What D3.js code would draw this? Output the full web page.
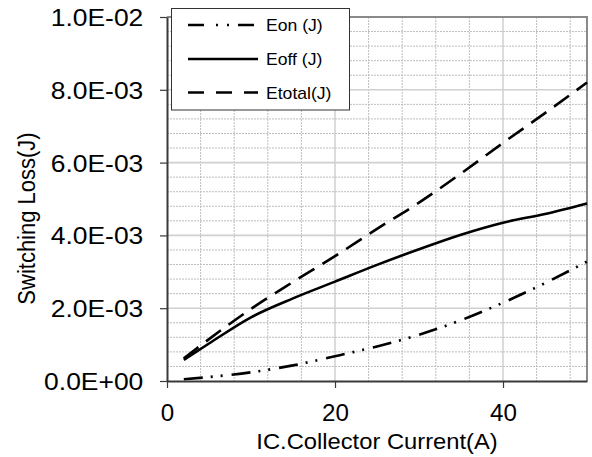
<!DOCTYPE html>
<html>
<head>
<meta charset="utf-8">
<script src="https://cdn.jsdelivr.net/npm/d3@7"></script>
<style>
  html, body { margin: 0; padding: 0; background: #fff; }
  svg { display: block; font-family: "Liberation Sans", Arial, sans-serif; }
</style>
</head>
<body>
<svg id="chart" width="592" height="457"></svg>
<script>
// Collector current (A) at which the switching energies are sampled
const currentA = [2, 5, 10, 15, 20, 25, 30, 35, 40, 45, 50];
// Switching energies in joules
const eonJ    = [0.05e-3, 0.11e-3, 0.24e-3, 0.43e-3, 0.68e-3, 0.95e-3, 1.27e-3, 1.67e-3, 2.15e-3, 2.69e-3, 3.28e-3];
const eoffJ   = [0.58e-3, 1.03e-3, 1.75e-3, 2.27e-3, 2.73e-3, 3.19e-3, 3.62e-3, 4.02e-3, 4.35e-3, 4.59e-3, 4.88e-3];
const etotalJ = [0.62e-3, 1.15e-3, 1.98e-3, 2.72e-3, 3.43e-3, 4.18e-3, 4.90e-3, 5.70e-3, 6.54e-3, 7.36e-3, 8.20e-3];

const seriesNames = ["Eon (J)", "Eoff (J)", "Etotal(J)"];
const xTickValues = [0, 20, 40];
const yTickValues = [0, 0.002, 0.004, 0.006, 0.008, 0.010];
const xLabel = "IC.Collector Current(A)";
const yLabel = "Switching Loss(J)";

const svg = d3.select("#chart");
const plot = { left: 167, right: 587, top: 17, bottom: 381 };

const x = d3.scaleLinear().domain([0, 50]).range([plot.left, plot.right]);
const y = d3.scaleLinear().domain([0, 0.01]).range([plot.bottom, plot.top]);

// "1.0E-02" style labels
function sciLabel(v) {
  const parts = v.toExponential(1).split("e");
  const sign = parts[1][0];
  const digits = parts[1].slice(1).padStart(2, "0");
  return parts[0] + "E" + sign + digits;
}

// Minor grid (dashed)
const grid = svg.append("g");
const minorX = d3.range(4, 50, 4).filter(v => v % 20 !== 0);
const minorY = d3.range(1, 25).map(i => i * 0.0004).filter((v, i) => (i + 1) % 5 !== 0);
grid.selectAll("line.mx").data(minorX).join("line")
  .attr("x1", d => x(d)).attr("x2", d => x(d))
  .attr("y1", plot.top).attr("y2", plot.bottom)
  .attr("stroke", "#bdbdbd").attr("stroke-width", 1).attr("stroke-dasharray", "2,1");
grid.selectAll("line.my").data(minorY).join("line")
  .attr("x1", plot.left).attr("x2", plot.right)
  .attr("y1", d => y(d)).attr("y2", d => y(d))
  .attr("stroke", "#bdbdbd").attr("stroke-width", 1).attr("stroke-dasharray", "2,1");
// Major grid (solid)
grid.selectAll("line.Mx").data([20, 40]).join("line")
  .attr("x1", d => x(d)).attr("x2", d => x(d))
  .attr("y1", plot.top).attr("y2", plot.bottom)
  .attr("stroke", "#c4c4c4").attr("stroke-width", 1.2);
grid.selectAll("line.My").data(yTickValues.slice(1, -1)).join("line")
  .attr("x1", plot.left).attr("x2", plot.right)
  .attr("y1", d => y(d)).attr("y2", d => y(d))
  .attr("stroke", "#d0d0d0").attr("stroke-width", 1.6);

// Top and right frame
svg.append("path")
  .attr("d", `M${plot.left},${plot.top}H${plot.right}V${plot.bottom}`)
  .attr("fill", "none").attr("stroke", "#8a8a8a").attr("stroke-width", 2);

// Curves
const line = d3.line().x(d => x(d[0])).y(d => y(d[1])).curve(d3.curveMonotoneX);
const series = [
  { values: eonJ,    dash: "19,8,2,8,2,9" },
  { values: eoffJ,   dash: null },
  { values: etotalJ, dash: "18.5,9.5" }
];
svg.append("g").selectAll("path").data(series).join("path")
  .attr("d", s => line(currentA.map((c, i) => [c, s.values[i]])))
  .attr("fill", "none").attr("stroke", "#000").attr("stroke-width", 2.6)
  .attr("stroke-dasharray", s => s.dash);

// Axes
const yAxis = svg.append("g").attr("transform", `translate(${plot.left},0)`)
  .call(d3.axisLeft(y).tickValues(yTickValues).tickSize(7).tickSizeOuter(0).tickFormat(sciLabel));
const xAxis = svg.append("g").attr("transform", `translate(0,${plot.bottom})`)
  .call(d3.axisBottom(x).tickValues(xTickValues).tickSize(7).tickSizeOuter(0).tickFormat(d3.format("d")));
[yAxis, xAxis].forEach(a => {
  a.select(".domain").attr("stroke", "#3a3a3a").attr("stroke-width", 2);
  a.selectAll(".tick line").attr("stroke", "#3a3a3a").attr("stroke-width", 1.2);
});
yAxis.selectAll(".tick text")
  .attr("font-size", 23).attr("fill", "#000")
  .attr("x", -23.7 / 1.15).attr("dy", "0.37em")
  .attr("transform", "scale(1.15,1)");
xAxis.selectAll(".tick text")
  .attr("font-size", 23).attr("fill", "#000")
  .attr("y", 40).attr("dy", 0)
  .attr("transform", "scale(1.05,1)");

// Axis titles
svg.append("text")
  .attr("transform", `translate(${(plot.left + plot.right) / 2},449) scale(1.08,1)`)
  .attr("text-anchor", "middle").attr("font-size", 22).attr("fill", "#000")
  .text(xLabel);
svg.append("text")
  .attr("transform", `translate(35,218.5) scale(1.12,1) rotate(-90)`)
  .attr("text-anchor", "middle").attr("font-size", 22).attr("fill", "#000")
  .text(yLabel);

// Legend
const legend = svg.append("g");
legend.append("rect")
  .attr("x", 171.5).attr("y", 8.5).attr("width", 178).attr("height", 101.5)
  .attr("fill", "#fff").attr("stroke", "#333").attr("stroke-width", 1);
const legendDash = ["16,12,2,9,2,9", null, "16,12"];
const legendRowY = [25, 59, 92.5];
seriesNames.forEach((name, i) => {
  legend.append("line")
    .attr("x1", 188).attr("x2", 258)
    .attr("y1", legendRowY[i]).attr("y2", legendRowY[i])
    .attr("stroke", "#000").attr("stroke-width", 2.6)
    .attr("stroke-dasharray", legendDash[i]);
  legend.append("text")
    .attr("transform", `translate(266,${legendRowY[i] + 6}) scale(1.1,1)`)
    .attr("font-size", 16).attr("fill", "#000")
    .text(name);
});
</script>
</body>
</html>
